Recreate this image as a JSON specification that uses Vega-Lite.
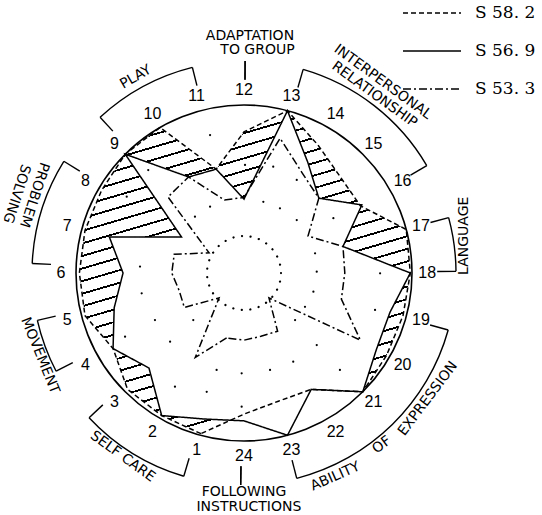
{
  "$schema": "https://vega.github.io/schema/vega-lite/v6.json",
  "width": 542,
  "height": 515,
  "autosize": "none",
  "padding": 0,
  "background": "white",
  "config": {"view": {"stroke": null}, "text": {"font": "Liberation Sans", "color": "black"}},
  "datasets": {
    "scores": [
      {"series": "S 58. 2", "axis": 1, "value": 0.99}, {"series": "S 58. 2", "axis": 2, "value": 0.98}, {"series": "S 58. 2", "axis": 3, "value": 0.98}, {"series": "S 58. 2", "axis": 4, "value": 0.90},
      {"series": "S 58. 2", "axis": 5, "value": 0.98}, {"series": "S 58. 2", "axis": 6, "value": 0.98}, {"series": "S 58. 2", "axis": 7, "value": 0.98}, {"series": "S 58. 2", "axis": 8, "value": 0.98},
      {"series": "S 58. 2", "axis": 9, "value": 1.0}, {"series": "S 58. 2", "axis": 10, "value": 1.0}, {"series": "S 58. 2", "axis": 11, "value": 0.64}, {"series": "S 58. 2", "axis": 12, "value": 0.84},
      {"series": "S 58. 2", "axis": 13, "value": 1.0}, {"series": "S 58. 2", "axis": 14, "value": 0.88}, {"series": "S 58. 2", "axis": 15, "value": 0.81}, {"series": "S 58. 2", "axis": 16, "value": 0.80},
      {"series": "S 58. 2", "axis": 17, "value": 1.0}, {"series": "S 58. 2", "axis": 18, "value": 0.99}, {"series": "S 58. 2", "axis": 19, "value": 0.98}, {"series": "S 58. 2", "axis": 20, "value": 0.98},
      {"series": "S 58. 2", "axis": 21, "value": 1.0}, {"series": "S 58. 2", "axis": 22, "value": 0.80}, {"series": "S 58. 2", "axis": 23, "value": 0.79}, {"series": "S 58. 2", "axis": 24, "value": 0.84},
      {"series": "S 56. 9", "axis": 1, "value": 0.90}, {"series": "S 56. 9", "axis": 2, "value": 0.98}, {"series": "S 56. 9", "axis": 3, "value": 0.80}, {"series": "S 56. 9", "axis": 4, "value": 0.90},
      {"series": "S 56. 9", "axis": 5, "value": 0.80}, {"series": "S 56. 9", "axis": 6, "value": 0.72}, {"series": "S 56. 9", "axis": 7, "value": 0.83}, {"series": "S 56. 9", "axis": 8, "value": 0.43},
      {"series": "S 56. 9", "axis": 9, "value": 1.0}, {"series": "S 56. 9", "axis": 10, "value": 0.66}, {"series": "S 56. 9", "axis": 11, "value": 0.64}, {"series": "S 56. 9", "axis": 12, "value": 0.44},
      {"series": "S 56. 9", "axis": 13, "value": 1.0}, {"series": "S 56. 9", "axis": 14, "value": 0.76}, {"series": "S 56. 9", "axis": 15, "value": 0.63}, {"series": "S 56. 9", "axis": 16, "value": 0.81},
      {"series": "S 56. 9", "axis": 17, "value": 0.61}, {"series": "S 56. 9", "axis": 18, "value": 0.99}, {"series": "S 56. 9", "axis": 19, "value": 0.90}, {"series": "S 56. 9", "axis": 20, "value": 0.91},
      {"series": "S 56. 9", "axis": 21, "value": 1.0}, {"series": "S 56. 9", "axis": 22, "value": 0.80}, {"series": "S 56. 9", "axis": 23, "value": 1.0}, {"series": "S 56. 9", "axis": 24, "value": 0.88},
      {"series": "S 53. 3", "axis": 1, "value": 0.40}, {"series": "S 53. 3", "axis": 2, "value": 0.58}, {"series": "S 53. 3", "axis": 3, "value": 0.21}, {"series": "S 53. 3", "axis": 4, "value": 0.41},
      {"series": "S 53. 3", "axis": 5, "value": 0.40}, {"series": "S 53. 3", "axis": 6, "value": 0.43}, {"series": "S 53. 3", "axis": 7, "value": 0.43}, {"series": "S 53. 3", "axis": 8, "value": 0.24},
      {"series": "S 53. 3", "axis": 9, "value": 0.64}, {"series": "S 53. 3", "axis": 10, "value": 0.66}, {"series": "S 53. 3", "axis": 11, "value": 0.45}, {"series": "S 53. 3", "axis": 12, "value": 0.45},
      {"series": "S 53. 3", "axis": 13, "value": 0.83}, {"series": "S 53. 3", "axis": 14, "value": 0.69}, {"series": "S 53. 3", "axis": 15, "value": 0.63}, {"series": "S 53. 3", "axis": 16, "value": 0.44},
      {"series": "S 53. 3", "axis": 17, "value": 0.61}, {"series": "S 53. 3", "axis": 18, "value": 0.60}, {"series": "S 53. 3", "axis": 19, "value": 0.60}, {"series": "S 53. 3", "axis": 20, "value": 0.80},
      {"series": "S 53. 3", "axis": 21, "value": 0.21}, {"series": "S 53. 3", "axis": 22, "value": 0.40}, {"series": "S 53. 3", "axis": 23, "value": 0.39}, {"series": "S 53. 3", "axis": 24, "value": 0.40}
    ],
    "stipple": [
      {"x": -0.202, "y": 0.821}, {"x": 0.006, "y": 0.643}, {"x": 0.174, "y": 0.633}, {"x": 0.314, "y": 0.554}, {"x": 0.115, "y": 0.424},
      {"x": 0.214, "y": 0.385}, {"x": 0.314, "y": 0.315}, {"x": 0.532, "y": 0.326}, {"x": -0.202, "y": 0.395}, {"x": -0.570, "y": 0.613},
      {"x": -0.292, "y": 0.335}, {"x": -0.619, "y": 0.038}, {"x": -0.609, "y": -0.121}, {"x": -0.530, "y": -0.280}, {"x": -0.708, "y": -0.379},
      {"x": -0.440, "y": -0.409}, {"x": -0.302, "y": -0.280}, {"x": 0.423, "y": 0.117}, {"x": 0.433, "y": 0.008}, {"x": 0.413, "y": -0.111},
      {"x": 0.780, "y": -0.220}, {"x": 0.810, "y": -0.002}, {"x": 0.433, "y": -0.429}, {"x": 0.304, "y": -0.280}, {"x": 0.293, "y": -0.528},
      {"x": 0.571, "y": -0.577}, {"x": 0.155, "y": -0.577}, {"x": -0.014, "y": -0.597}, {"x": -0.163, "y": -0.577}, {"x": -0.411, "y": -0.677},
      {"x": -0.222, "y": -0.707}, {"x": -0.014, "y": -0.796}, {"x": -0.698, "y": 0.454}, {"x": 0.363, "y": -0.201}
    ],
    "groups": [
      {"group": "PLAY", "from": 9.15, "to": 11.06},
      {"group": "ADAPTATION TO GROUP", "from": 12.02, "to": 12.02},
      {"group": "INTERPERSONAL RELATIONSHIP", "from": 13.08, "to": 15.97},
      {"group": "LANGUAGE", "from": 16.99, "to": 17.97},
      {"group": "ABILITY OF EXPRESSION", "from": 19.04, "to": 23.04},
      {"group": "FOLLOWING INSTRUCTIONS", "from": 24.06, "to": 24.06},
      {"group": "SELF CARE", "from": 1.1, "to": 3.13},
      {"group": "MOVEMENT", "from": 4.16, "to": 5.14},
      {"group": "PROBLEM SOLVING", "from": 6.17, "to": 8.12}
    ],
    "numbers": [
      {"n": 1}, {"n": 2}, {"n": 3}, {"n": 4}, {"n": 5}, {"n": 6}, {"n": 7}, {"n": 8}, {"n": 9}, {"n": 10}, {"n": 11}, {"n": 12},
      {"n": 13}, {"n": 14}, {"n": 15}, {"n": 16}, {"n": 17}, {"n": 18}, {"n": 19}, {"n": 20}, {"n": 21}, {"n": 22}, {"n": 23}, {"n": 24}
    ],
    "labels": [
      {"text": "ADAPTATION", "pos": 12.096, "r": 1.414},
      {"text": "TO GROUP", "pos": 12.231, "r": 1.33},
      {"text": "FOLLOWING", "pos": 24.0, "r": 1.302},
      {"text": "INSTRUCTIONS", "pos": 23.92, "r": 1.393},
      {"text": "PLAY", "pos": 10.07, "r": 1.332},
      {"text": "INTERPERSONAL", "pos": 14.40, "r": 1.405},
      {"text": "RELATIONSHIP", "pos": 14.41, "r": 1.315},
      {"text": "SELF CARE", "pos": 2.23, "r": 1.31},
      {"text": "LANGUAGE", "pos": 17.36, "r": 1.328},
      {"text": "ABILITY", "pos": 22.39, "r": 1.328},
      {"text": "OF", "pos": 21.42, "r": 1.312},
      {"text": "EXPRESSION", "pos": 20.29, "r": 1.326},
      {"text": "MOVEMENT", "pos": 4.53, "r": 1.31},
      {"text": "PROBLEM", "pos": 7.36, "r": 1.333},
      {"text": "SOLVING", "pos": 7.28, "r": 1.435}
    ]
  },
  "encoding": {
    "x": {"field": "x", "type": "quantitative", "scale": {"domain": [-1.4524, 1.7738], "nice": false, "zero": false}, "axis": null},
    "y": {"field": "y", "type": "quantitative", "scale": {"domain": [-1.4405, 1.625], "nice": false, "zero": false}, "axis": null}
  },
  "layer": [
    {
      "data": {"name": "scores"},
      "transform": [
        {"calculate": "datum.value*sin((datum.axis-12)*PI/12)", "as": "x"},
        {"calculate": "datum.value*cos((datum.axis-12)*PI/12)", "as": "y"}
      ],
      "layer": [
        {
          "transform": [{"filter": "datum.series === 'S 58. 2'"}],
          "mark": {"type": "line", "interpolate": "linear-closed", "strokeWidth": 0,
            "fill": {"gradient": "linear", "x1": 0.35, "y1": 0, "x2": 0.65, "y2": 1, "stops": [
              {"offset": 0, "color": "#fff"},
              {"offset": 0.0302, "color": "#fff"}, {"offset": 0.0302, "color": "#000"}, {"offset": 0.0357, "color": "#000"}, {"offset": 0.0357, "color": "#fff"},
              {"offset": 0.0659, "color": "#fff"}, {"offset": 0.0659, "color": "#000"}, {"offset": 0.0714, "color": "#000"}, {"offset": 0.0714, "color": "#fff"},
              {"offset": 0.1016, "color": "#fff"}, {"offset": 0.1016, "color": "#000"}, {"offset": 0.1071, "color": "#000"}, {"offset": 0.1071, "color": "#fff"},
              {"offset": 0.1374, "color": "#fff"}, {"offset": 0.1374, "color": "#000"}, {"offset": 0.1429, "color": "#000"}, {"offset": 0.1429, "color": "#fff"},
              {"offset": 0.1731, "color": "#fff"}, {"offset": 0.1731, "color": "#000"}, {"offset": 0.1786, "color": "#000"}, {"offset": 0.1786, "color": "#fff"},
              {"offset": 0.2088, "color": "#fff"}, {"offset": 0.2088, "color": "#000"}, {"offset": 0.2143, "color": "#000"}, {"offset": 0.2143, "color": "#fff"},
              {"offset": 0.2445, "color": "#fff"}, {"offset": 0.2445, "color": "#000"}, {"offset": 0.25, "color": "#000"}, {"offset": 0.25, "color": "#fff"},
              {"offset": 0.2802, "color": "#fff"}, {"offset": 0.2802, "color": "#000"}, {"offset": 0.2857, "color": "#000"}, {"offset": 0.2857, "color": "#fff"},
              {"offset": 0.3159, "color": "#fff"}, {"offset": 0.3159, "color": "#000"}, {"offset": 0.3214, "color": "#000"}, {"offset": 0.3214, "color": "#fff"},
              {"offset": 0.3516, "color": "#fff"}, {"offset": 0.3516, "color": "#000"}, {"offset": 0.3571, "color": "#000"}, {"offset": 0.3571, "color": "#fff"},
              {"offset": 0.3874, "color": "#fff"}, {"offset": 0.3874, "color": "#000"}, {"offset": 0.3929, "color": "#000"}, {"offset": 0.3929, "color": "#fff"},
              {"offset": 0.4231, "color": "#fff"}, {"offset": 0.4231, "color": "#000"}, {"offset": 0.4286, "color": "#000"}, {"offset": 0.4286, "color": "#fff"},
              {"offset": 0.4588, "color": "#fff"}, {"offset": 0.4588, "color": "#000"}, {"offset": 0.4643, "color": "#000"}, {"offset": 0.4643, "color": "#fff"},
              {"offset": 0.4945, "color": "#fff"}, {"offset": 0.4945, "color": "#000"}, {"offset": 0.5, "color": "#000"}, {"offset": 0.5, "color": "#fff"},
              {"offset": 0.5302, "color": "#fff"}, {"offset": 0.5302, "color": "#000"}, {"offset": 0.5357, "color": "#000"}, {"offset": 0.5357, "color": "#fff"},
              {"offset": 0.5659, "color": "#fff"}, {"offset": 0.5659, "color": "#000"}, {"offset": 0.5714, "color": "#000"}, {"offset": 0.5714, "color": "#fff"},
              {"offset": 0.6016, "color": "#fff"}, {"offset": 0.6016, "color": "#000"}, {"offset": 0.6071, "color": "#000"}, {"offset": 0.6071, "color": "#fff"},
              {"offset": 0.6374, "color": "#fff"}, {"offset": 0.6374, "color": "#000"}, {"offset": 0.6429, "color": "#000"}, {"offset": 0.6429, "color": "#fff"},
              {"offset": 0.6731, "color": "#fff"}, {"offset": 0.6731, "color": "#000"}, {"offset": 0.6786, "color": "#000"}, {"offset": 0.6786, "color": "#fff"},
              {"offset": 0.7088, "color": "#fff"}, {"offset": 0.7088, "color": "#000"}, {"offset": 0.7143, "color": "#000"}, {"offset": 0.7143, "color": "#fff"},
              {"offset": 0.7445, "color": "#fff"}, {"offset": 0.7445, "color": "#000"}, {"offset": 0.75, "color": "#000"}, {"offset": 0.75, "color": "#fff"},
              {"offset": 0.7802, "color": "#fff"}, {"offset": 0.7802, "color": "#000"}, {"offset": 0.7857, "color": "#000"}, {"offset": 0.7857, "color": "#fff"},
              {"offset": 0.8159, "color": "#fff"}, {"offset": 0.8159, "color": "#000"}, {"offset": 0.8214, "color": "#000"}, {"offset": 0.8214, "color": "#fff"},
              {"offset": 0.8516, "color": "#fff"}, {"offset": 0.8516, "color": "#000"}, {"offset": 0.8571, "color": "#000"}, {"offset": 0.8571, "color": "#fff"},
              {"offset": 0.8874, "color": "#fff"}, {"offset": 0.8874, "color": "#000"}, {"offset": 0.8929, "color": "#000"}, {"offset": 0.8929, "color": "#fff"},
              {"offset": 0.9231, "color": "#fff"}, {"offset": 0.9231, "color": "#000"}, {"offset": 0.9286, "color": "#000"}, {"offset": 0.9286, "color": "#fff"},
              {"offset": 0.9588, "color": "#fff"}, {"offset": 0.9588, "color": "#000"}, {"offset": 0.9643, "color": "#000"}, {"offset": 0.9643, "color": "#fff"},
              {"offset": 0.9945, "color": "#fff"}, {"offset": 0.9945, "color": "#000"}, {"offset": 1, "color": "#000"}
            ]}
          },
          "encoding": {"order": {"field": "axis", "type": "quantitative"}}
        },
        {
          "transform": [{"filter": "datum.series === 'S 56. 9'"}],
          "mark": {"type": "line", "interpolate": "linear-closed", "strokeWidth": 0, "fill": "white"},
          "encoding": {"order": {"field": "axis", "type": "quantitative"}}
        }
      ]
    },
    {
      "data": {"name": "stipple"},
      "mark": {"type": "point", "filled": true, "size": 5, "color": "black", "opacity": 1}
    },
    {
      "data": {"values": [{"x": 0, "y": 0}]},
      "mark": {"type": "point", "shape": "circle", "size": 112896, "filled": false, "stroke": "black", "strokeWidth": 1.6, "opacity": 1}
    },
    {
      "data": {"values": [{"x": 0, "y": 0}]},
      "mark": {"type": "point", "shape": "circle", "size": 5476, "filled": false, "stroke": "black", "strokeWidth": 2.2, "strokeDash": [0.1, 8.5], "strokeCap": "round", "opacity": 1}
    },
    {
      "data": {"name": "scores"},
      "transform": [
        {"calculate": "datum.value*sin((datum.axis-12)*PI/12)", "as": "x"},
        {"calculate": "datum.value*cos((datum.axis-12)*PI/12)", "as": "y"}
      ],
      "mark": {"type": "line", "interpolate": "linear-closed", "color": "black", "strokeWidth": 1.5},
      "encoding": {
        "order": {"field": "axis", "type": "quantitative"},
        "strokeDash": {
          "field": "series", "type": "nominal",
          "scale": {"domain": ["S 58. 2", "S 56. 9", "S 53. 3"], "range": [[5, 3], [1, 0], [8, 3, 2, 3]]},
          "legend": {"title": null, "orient": "none", "legendX": 402, "legendY": -17, "symbolType": "stroke", "symbolSize": 3364, "symbolStrokeWidth": 1.4, "symbolStrokeColor": "black", "labelFont": "DejaVu Serif", "labelFontSize": 17, "labelColor": "black", "labelOffset": 13, "rowPadding": -1, "labelLimit": 200}
        }
      }
    },
    {
      "data": {"name": "groups"},
      "transform": [
        {"calculate": "(datum.from-12)*PI/12", "as": "t1"},
        {"calculate": "(datum.to-12)*PI/12", "as": "t2"},
        {"calculate": "0", "as": "x"},
        {"calculate": "0", "as": "y"}
      ],
      "mark": {"type": "arc", "radius": 212.7, "radius2": 211.3, "fill": "black"},
      "encoding": {
        "theta": {"field": "t1", "type": "quantitative", "scale": null, "stack": null},
        "theta2": {"field": "t2"}
      }
    },
    {
      "data": {"name": "groups"},
      "transform": [
        {"fold": ["from", "to"], "as": ["end", "pos"]},
        {"calculate": "1.15*sin((datum.pos-12)*PI/12)", "as": "x"},
        {"calculate": "1.15*cos((datum.pos-12)*PI/12)", "as": "y"},
        {"calculate": "1.262*sin((datum.pos-12)*PI/12)", "as": "x2"},
        {"calculate": "1.262*cos((datum.pos-12)*PI/12)", "as": "y2"}
      ],
      "mark": {"type": "rule", "color": "black", "strokeWidth": 1.4},
      "encoding": {"x2": {"field": "x2"}, "y2": {"field": "y2"}}
    },
    {
      "data": {"name": "numbers"},
      "transform": [
        {"calculate": "1.09*sin((datum.n-12)*PI/12)", "as": "x"},
        {"calculate": "1.09*cos((datum.n-12)*PI/12)", "as": "y"}
      ],
      "mark": {"type": "text", "fontSize": 16, "align": "center", "baseline": "middle"},
      "encoding": {"text": {"field": "n", "type": "nominal"}}
    },
    {
      "data": {"name": "labels"},
      "transform": [
        {"calculate": "datum.r*sin((datum.pos-12)*PI/12)", "as": "x"},
        {"calculate": "datum.r*cos((datum.pos-12)*PI/12)", "as": "y"}
      ],
      "layer": [
        {"transform": [{"filter": {"field": "text", "oneOf": ["ADAPTATION", "TO GROUP", "FOLLOWING", "INSTRUCTIONS"]}}],
         "mark": {"type": "text", "font": "DejaVu Sans", "fontSize": 14, "align": "center", "baseline": "middle", "angle": 0}, "encoding": {"text": {"field": "text"}}},
        {"transform": [{"filter": {"field": "text", "equal": "PLAY"}}],
         "mark": {"type": "text", "font": "DejaVu Sans", "fontSize": 14, "align": "center", "baseline": "middle", "angle": -30}, "encoding": {"text": {"field": "text"}}},
        {"transform": [{"filter": {"field": "text", "oneOf": ["INTERPERSONAL", "RELATIONSHIP", "SELF CARE"]}}],
         "mark": {"type": "text", "font": "DejaVu Sans", "fontSize": 14, "align": "center", "baseline": "middle", "angle": 36}, "encoding": {"text": {"field": "text"}}},
        {"transform": [{"filter": {"field": "text", "equal": "LANGUAGE"}}],
         "mark": {"type": "text", "font": "DejaVu Sans", "fontSize": 14, "align": "center", "baseline": "middle", "angle": -90}, "encoding": {"text": {"field": "text"}}},
        {"transform": [{"filter": {"field": "text", "equal": "ABILITY"}}],
         "mark": {"type": "text", "font": "DejaVu Sans", "fontSize": 14, "align": "center", "baseline": "middle", "angle": -24}, "encoding": {"text": {"field": "text"}}},
        {"transform": [{"filter": {"field": "text", "equal": "OF"}}],
         "mark": {"type": "text", "font": "DejaVu Sans", "fontSize": 14, "align": "center", "baseline": "middle", "angle": -37}, "encoding": {"text": {"field": "text"}}},
        {"transform": [{"filter": {"field": "text", "equal": "EXPRESSION"}}],
         "mark": {"type": "text", "font": "DejaVu Sans", "fontSize": 14, "align": "center", "baseline": "middle", "angle": -53}, "encoding": {"text": {"field": "text"}}},
        {"transform": [{"filter": {"field": "text", "equal": "MOVEMENT"}}],
         "mark": {"type": "text", "font": "DejaVu Sans", "fontSize": 14, "align": "center", "baseline": "middle", "angle": 68}, "encoding": {"text": {"field": "text"}}},
        {"transform": [{"filter": {"field": "text", "oneOf": ["PROBLEM", "SOLVING"]}}],
         "mark": {"type": "text", "font": "DejaVu Sans", "fontSize": 14, "align": "center", "baseline": "middle", "angle": 108}, "encoding": {"text": {"field": "text"}}}
      ]
    }
  ]
}
